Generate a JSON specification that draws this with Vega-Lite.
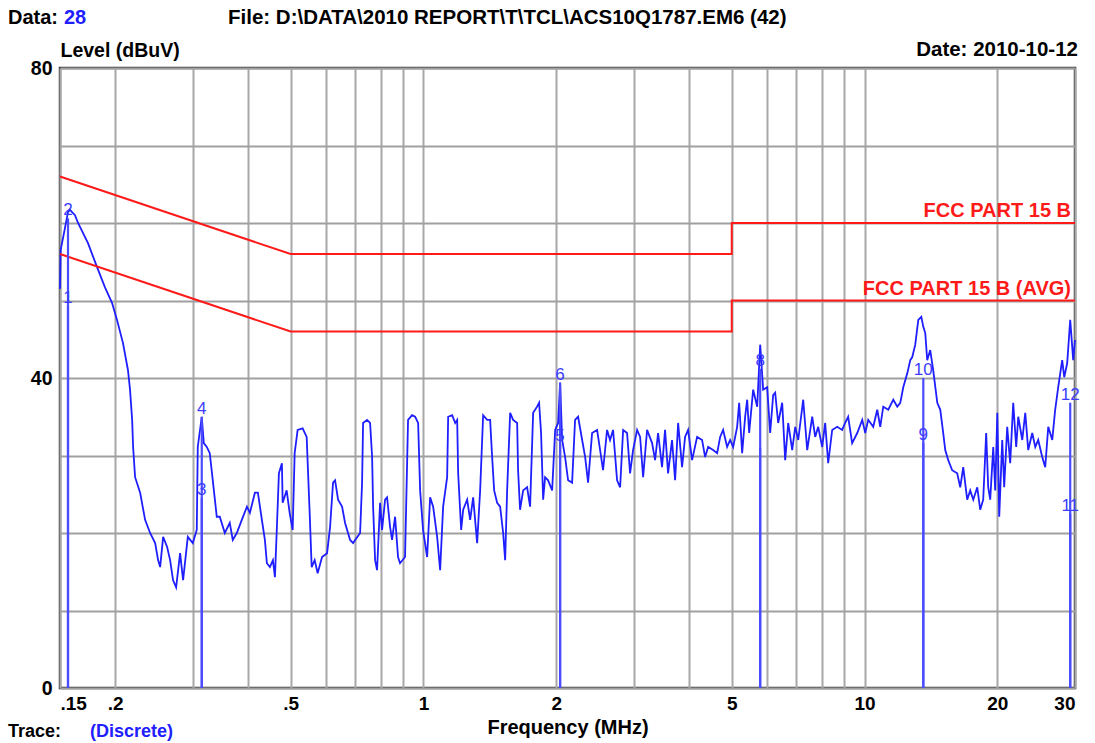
{
  "$schema": "https://vega.github.io/schema/vega-lite/v6.json",
  "width": 1015,
  "height": 620,
  "autosize": {"type": "none"},
  "padding": {"left": 60, "top": 68, "right": 20, "bottom": 55},
  "background": "white",
  "config": {
    "font": "Liberation Sans",
    "view": {"stroke": "#3a3a3a", "strokeWidth": 2.5}
  },
  "resolve": {"axis": {"x": "independent", "y": "independent"}},
  "datasets": {
    "trace": [
      {"f":0.1500,"v":51.5},{"f":0.1505,"v":56.5},{"f":0.1540,"v":59.4},{"f":0.1564,"v":61.4},{"f":0.1580,"v":61.7},{"f":0.1622,"v":61.0},{"f":0.1648,"v":60.0},{"f":0.1736,"v":57.4},{"f":0.1820,"v":54.3},{"f":0.1897,"v":51.7},{"f":0.1968,"v":49.7},{"f":0.2020,"v":47.5},{"f":0.2084,"v":44.5},{"f":0.2139,"v":41.0},{"f":0.2162,"v":38.5},{"f":0.2186,"v":34.6},{"f":0.2197,"v":31.1},{"f":0.2220,"v":27.2},{"f":0.2279,"v":25.2},{"f":0.2339,"v":21.7},{"f":0.2401,"v":20.0},{"f":0.2465,"v":18.7},{"f":0.2503,"v":16.5},{"f":0.2530,"v":15.6},{"f":0.2570,"v":19.5},{"f":0.2624,"v":18.2},{"f":0.2665,"v":16.5},{"f":0.2707,"v":13.9},{"f":0.2750,"v":13.0},{"f":0.2808,"v":17.4},{"f":0.2852,"v":13.9},{"f":0.2923,"v":19.5},{"f":0.3000,"v":18.7},{"f":0.3063,"v":20.4},{"f":0.3079,"v":31.1},{"f":0.3144,"v":35.0},{"f":0.3177,"v":31.6},{"f":0.3227,"v":31.1},{"f":0.3278,"v":30.3},{"f":0.3330,"v":26.8},{"f":0.3400,"v":22.1},{"f":0.3454,"v":22.1},{"f":0.3546,"v":20.0},{"f":0.3639,"v":21.3},{"f":0.3696,"v":19.1},{"f":0.3775,"v":20.0},{"f":0.3875,"v":21.7},{"f":0.3980,"v":23.4},{"f":0.4042,"v":22.6},{"f":0.4149,"v":25.2},{"f":0.4214,"v":25.2},{"f":0.4303,"v":21.7},{"f":0.4371,"v":19.1},{"f":0.4417,"v":16.1},{"f":0.4487,"v":15.6},{"f":0.4558,"v":16.5},{"f":0.4606,"v":14.3},{"f":0.4654,"v":20.8},{"f":0.4703,"v":27.7},{"f":0.4777,"v":29.0},{"f":0.4796,"v":23.9},{"f":0.4897,"v":25.5},{"f":0.4974,"v":22.6},{"f":0.5053,"v":20.4},{"f":0.5106,"v":30.3},{"f":0.5186,"v":33.3},{"f":0.5323,"v":33.5},{"f":0.5436,"v":32.4},{"f":0.5522,"v":22.6},{"f":0.5580,"v":15.6},{"f":0.5668,"v":16.5},{"f":0.5757,"v":14.8},{"f":0.5891,"v":16.9},{"f":0.6047,"v":17.4},{"f":0.6143,"v":20.8},{"f":0.6239,"v":26.5},{"f":0.6305,"v":26.8},{"f":0.6405,"v":24.3},{"f":0.6540,"v":23.4},{"f":0.6643,"v":21.3},{"f":0.6820,"v":19.1},{"f":0.6927,"v":18.7},{"f":0.7185,"v":20.0},{"f":0.7260,"v":26.5},{"f":0.7298,"v":34.2},{"f":0.7452,"v":34.6},{"f":0.7570,"v":34.2},{"f":0.7650,"v":29.8},{"f":0.7690,"v":23.4},{"f":0.7770,"v":16.5},{"f":0.7850,"v":15.2},{"f":0.7975,"v":23.9},{"f":0.8058,"v":20.4},{"f":0.8186,"v":24.3},{"f":0.8272,"v":24.6},{"f":0.8402,"v":20.8},{"f":0.8490,"v":19.1},{"f":0.8625,"v":22.1},{"f":0.8759,"v":16.9},{"f":0.8850,"v":16.1},{"f":0.9085,"v":16.9},{"f":0.9229,"v":34.6},{"f":0.9423,"v":35.2},{"f":0.9576,"v":35.0},{"f":0.9727,"v":34.2},{"f":0.9829,"v":25.5},{"f":0.9980,"v":20.4},{"f":1.0195,"v":16.9},{"f":1.0356,"v":24.6},{"f":1.0520,"v":23.4},{"f":1.0742,"v":19.5},{"f":1.0911,"v":15.2},{"f":1.1083,"v":23.4},{"f":1.1318,"v":27.2},{"f":1.1378,"v":35.0},{"f":1.1619,"v":35.2},{"f":1.1802,"v":34.2},{"f":1.1926,"v":34.6},{"f":1.1988,"v":27.7},{"f":1.2177,"v":20.4},{"f":1.2305,"v":23.0},{"f":1.2564,"v":24.3},{"f":1.2763,"v":21.7},{"f":1.2963,"v":24.6},{"f":1.3236,"v":18.7},{"f":1.3445,"v":25.5},{"f":1.3657,"v":35.2},{"f":1.3946,"v":34.6},{"f":1.4166,"v":34.6},{"f":1.4314,"v":29.8},{"f":1.4465,"v":25.5},{"f":1.4692,"v":23.9},{"f":1.4924,"v":23.4},{"f":1.5160,"v":20.0},{"f":1.5319,"v":16.5},{"f":1.5480,"v":25.5},{"f":1.5725,"v":35.5},{"f":1.5970,"v":34.6},{"f":1.6310,"v":34.2},{"f":1.6390,"v":28.1},{"f":1.6560,"v":23.0},{"f":1.6830,"v":25.5},{"f":1.7180,"v":25.9},{"f":1.7450,"v":23.4},{"f":1.7730,"v":35.5},{"f":1.8100,"v":36.3},{"f":1.8290,"v":36.8},{"f":1.8480,"v":32.9},{"f":1.8680,"v":24.3},{"f":1.8870,"v":27.2},{"f":1.9170,"v":26.8},{"f":1.9580,"v":25.5},{"f":1.9890,"v":33.3},{"f":2.0200,"v":34.2},{"f":2.0410,"v":39.4},{"f":2.0630,"v":32.0},{"f":2.0950,"v":29.8},{"f":2.1280,"v":26.8},{"f":2.1730,"v":26.5},{"f":2.2070,"v":34.6},{"f":2.2420,"v":35.0},{"f":2.2900,"v":32.0},{"f":2.3260,"v":29.8},{"f":2.3620,"v":26.5},{"f":2.4120,"v":32.9},{"f":2.4760,"v":33.3},{"f":2.5150,"v":30.7},{"f":2.5540,"v":28.1},{"f":2.6080,"v":33.3},{"f":2.6490,"v":32.0},{"f":2.6910,"v":33.3},{"f":2.7480,"v":26.8},{"f":2.7920,"v":25.9},{"f":2.8360,"v":33.3},{"f":2.8950,"v":32.9},{"f":2.9410,"v":27.7},{"f":2.9870,"v":30.7},{"f":3.0510,"v":33.3},{"f":3.0990,"v":32.4},{"f":3.1480,"v":27.2},{"f":3.2140,"v":33.3},{"f":3.2990,"v":31.6},{"f":3.3510,"v":29.4},{"f":3.4040,"v":32.9},{"f":3.4750,"v":28.5},{"f":3.5300,"v":33.3},{"f":3.5860,"v":27.7},{"f":3.6610,"v":32.0},{"f":3.7200,"v":26.8},{"f":3.7790,"v":34.2},{"f":3.8580,"v":28.5},{"f":3.9190,"v":32.4},{"f":3.9810,"v":33.3},{"f":4.0650,"v":29.4},{"f":4.1730,"v":32.4},{"f":4.2830,"v":32.0},{"f":4.3510,"v":29.8},{"f":4.4200,"v":31.1},{"f":4.5370,"v":30.7},{"f":4.6330,"v":30.3},{"f":4.7060,"v":32.4},{"f":4.7800,"v":33.3},{"f":4.8810,"v":31.1},{"f":4.9580,"v":32.0},{"f":5.0370,"v":31.1},{"f":5.1430,"v":33.7},{"f":5.1970,"v":36.8},{"f":5.2790,"v":30.3},{"f":5.3620,"v":35.0},{"f":5.4190,"v":37.2},{"f":5.4750,"v":32.9},{"f":5.5910,"v":38.5},{"f":5.7100,"v":36.3},{"f":5.8000,"v":44.3},{"f":5.8910,"v":38.5},{"f":6.0160,"v":38.8},{"f":6.1100,"v":32.9},{"f":6.2070,"v":37.8},{"f":6.2720,"v":38.1},{"f":6.3710,"v":34.2},{"f":6.5060,"v":36.8},{"f":6.6090,"v":29.4},{"f":6.7140,"v":34.2},{"f":6.8550,"v":30.7},{"f":6.9640,"v":33.7},{"f":7.0740,"v":32.0},{"f":7.2600,"v":37.2},{"f":7.4140,"v":30.7},{"f":7.6100,"v":35.0},{"f":7.7300,"v":32.4},{"f":7.8510,"v":33.7},{"f":8.0170,"v":31.1},{"f":8.1430,"v":34.2},{"f":8.2720,"v":29.0},{"f":8.4460,"v":33.3},{"f":8.6700,"v":33.7},{"f":8.8970,"v":33.3},{"f":9.0380,"v":34.2},{"f":9.1800,"v":35.0},{"f":9.3740,"v":31.6},{"f":9.6260,"v":32.9},{"f":9.8810,"v":34.6},{"f":10.037,"v":32.9},{"f":10.195,"v":34.6},{"f":10.465,"v":33.7},{"f":10.686,"v":35.9},{"f":10.854,"v":33.7},{"f":11.026,"v":36.3},{"f":11.318,"v":35.9},{"f":11.619,"v":37.2},{"f":11.864,"v":36.3},{"f":12.051,"v":36.8},{"f":12.241,"v":38.8},{"f":12.500,"v":40.6},{"f":12.697,"v":42.3},{"f":12.830,"v":42.7},{"f":13.030,"v":44.3},{"f":13.240,"v":47.5},{"f":13.450,"v":47.9},{"f":13.590,"v":46.6},{"f":13.730,"v":45.8},{"f":13.870,"v":42.3},{"f":14.090,"v":43.6},{"f":14.310,"v":41.0},{"f":14.620,"v":36.8},{"f":14.850,"v":35.9},{"f":15.080,"v":32.9},{"f":15.240,"v":30.7},{"f":15.480,"v":29.4},{"f":15.800,"v":28.1},{"f":16.220,"v":27.7},{"f":16.480,"v":25.9},{"f":16.740,"v":28.5},{"f":17.090,"v":24.3},{"f":17.360,"v":25.5},{"f":17.640,"v":24.3},{"f":18.010,"v":25.9},{"f":18.290,"v":23.0},{"f":18.580,"v":24.3},{"f":18.870,"v":32.9},{"f":19.070,"v":25.9},{"f":19.270,"v":24.3},{"f":19.580,"v":31.1},{"f":19.780,"v":25.5},{"f":20.000,"v":35.5},{"f":20.200,"v":22.1},{"f":20.520,"v":32.0},{"f":20.730,"v":25.9},{"f":21.060,"v":33.7},{"f":21.390,"v":29.0},{"f":21.730,"v":36.8},{"f":22.070,"v":31.1},{"f":22.310,"v":35.0},{"f":22.780,"v":32.0},{"f":23.140,"v":35.5},{"f":23.500,"v":30.7},{"f":24.000,"v":32.9},{"f":24.380,"v":31.1},{"f":24.760,"v":32.0},{"f":25.280,"v":29.8},{"f":25.680,"v":28.5},{"f":26.090,"v":33.7},{"f":26.640,"v":32.0},{"f":27.050,"v":35.9},{"f":27.480,"v":38.8},{"f":28.060,"v":42.3},{"f":28.360,"v":40.1},{"f":28.800,"v":41.9},{"f":29.260,"v":47.5},{"f":29.720,"v":42.3},{"f":30.000,"v":44.9}
    ],
    "limits": [
      {"lim":"QP","i":1,"f":0.15,"v":66},{"lim":"QP","i":2,"f":0.5,"v":56},{"lim":"QP","i":3,"f":5,"v":56},{"lim":"QP","i":4,"f":5,"v":60},{"lim":"QP","i":5,"f":30,"v":60},
      {"lim":"AVG","i":1,"f":0.15,"v":56},{"lim":"AVG","i":2,"f":0.5,"v":46},{"lim":"AVG","i":3,"f":5,"v":46},{"lim":"AVG","i":4,"f":5,"v":50},{"lim":"AVG","i":5,"f":30,"v":50}
    ],
    "markers": [
      {"m":1,"f":0.1564,"v":49.3},{"m":2,"f":0.1564,"v":60.6},
      {"m":3,"f":0.3144,"v":24.5},{"m":4,"f":0.3144,"v":35.0},
      {"m":5,"f":2.041,"v":31.5},{"m":6,"f":2.041,"v":39.4},
      {"m":7,"f":5.80,"v":31.0},{"m":8,"f":5.80,"v":41.2},
      {"m":9,"f":13.59,"v":31.6},{"m":10,"f":13.59,"v":40.0},
      {"m":11,"f":29.26,"v":22.5},{"m":12,"f":29.26,"v":36.8}
    ]
  },
  "layer": [
    {
      "data": {"name": "trace"},
      "mark": {"type": "line", "color": "#1e1eff", "strokeWidth": 1.8, "interpolate": "linear"},
      "encoding": {
        "x": {"field": "f", "type": "quantitative", "scale": {"type": "log", "domain": [0.15, 30], "nice": false},
          "axis": {"orient": "bottom", "values": [0.15,0.2,0.3,0.4,0.5,0.6,0.7,0.8,0.9,1,2,3,4,5,6,7,8,9,10,20,30],
            "labelExpr": "datum.value == 0.15 ? '.15' : datum.value == 0.2 ? '.2' : datum.value == 0.5 ? '.5' : (datum.value == 1 || datum.value == 2 || datum.value == 5 || datum.value == 10 || datum.value == 20 || datum.value == 30) ? format(datum.value, 'd') : ''",
            "title": "Frequency (MHz)", "ticks": false, "domain": false, "grid": true, "gridColor": "#a8a8a8", "gridWidth": 2, "gridOpacity": 1,
            "labelFontSize": 19, "labelFontWeight": "bold", "labelColor": "#000000", "labelPadding": 6, "labelFlush": true, "labelOverlap": false,
            "titleFontSize": 20, "titleFontWeight": "bold", "titleColor": "#000000", "titlePadding": 4}},
        "y": {"field": "v", "type": "quantitative", "scale": {"domain": [0, 80], "nice": false},
          "axis": {"orient": "left", "values": [0,10,20,30,40,50,60,70,80],
            "labelExpr": "datum.value % 40 == 0 ? datum.label : ''",
            "title": "Level (dBuV)", "titleAngle": 0, "titleX": 0, "titleY": -18, "titleAlign": "left", "titleBaseline": "middle",
            "titleFontSize": 19.5, "titleFontWeight": "bold", "titleColor": "#000000",
            "ticks": false, "domain": false, "grid": true, "gridColor": "#a0a0a0", "gridWidth": 2, "gridOpacity": 1,
            "labelFontSize": 19.5, "labelFontWeight": "bold", "labelColor": "#000000", "labelPadding": 8}}
      }
    },
    {
      "data": {"name": "limits"},
      "mark": {"type": "line", "color": "#ff1a1a", "strokeWidth": 2},
      "encoding": {
        "x": {"field": "f", "type": "quantitative", "scale": {"type": "log", "domain": [0.15, 30], "nice": false}, "axis": null},
        "y": {"field": "v", "type": "quantitative", "scale": {"domain": [0, 80], "nice": false}, "axis": null},
        "detail": {"field": "lim"},
        "order": {"field": "i", "type": "quantitative"}
      }
    },
    {
      "data": {"name": "markers"},
      "mark": {"type": "rule", "color": "#4a4aff", "strokeWidth": 2.2},
      "encoding": {
        "x": {"field": "f", "type": "quantitative", "scale": {"type": "log", "domain": [0.15, 30], "nice": false}, "axis": null},
        "y": {"field": "v", "type": "quantitative", "scale": {"domain": [0, 80], "nice": false}, "axis": null},
        "y2": {"datum": 0}
      }
    },
    {
      "data": {"name": "markers"},
      "transform": [{"filter": "datum.m != 7"}],
      "mark": {"type": "text", "color": "#3c3cff", "fontSize": 17, "baseline": "alphabetic", "align": "center", "dy": -3},
      "encoding": {
        "x": {"field": "f", "type": "quantitative", "scale": {"type": "log", "domain": [0.15, 30], "nice": false}, "axis": null},
        "y": {"field": "v", "type": "quantitative", "scale": {"domain": [0, 80], "nice": false}, "axis": null},
        "text": {"field": "m", "type": "nominal"}
      }
    },
    {
      "data": {"values": [{}]},
      "mark": {"type": "text", "color": "#ff1a1a", "fontSize": 20, "fontWeight": "bold", "align": "right", "baseline": "alphabetic", "dx": -4, "dy": -6},
      "encoding": {
        "x": {"datum": 30, "type": "quantitative", "scale": {"type": "log", "domain": [0.15, 30], "nice": false}, "axis": null},
        "y": {"datum": 60, "type": "quantitative", "scale": {"domain": [0, 80], "nice": false}, "axis": null},
        "text": {"value": "FCC PART 15 B"}
      }
    },
    {
      "data": {"values": [{}]},
      "mark": {"type": "text", "color": "#ff1a1a", "fontSize": 20, "fontWeight": "bold", "align": "right", "baseline": "alphabetic", "dx": -4, "dy": -6},
      "encoding": {
        "x": {"datum": 30, "type": "quantitative", "scale": {"type": "log", "domain": [0.15, 30], "nice": false}, "axis": null},
        "y": {"datum": 50, "type": "quantitative", "scale": {"domain": [0, 80], "nice": false}, "axis": null},
        "text": {"value": "FCC PART 15 B (AVG)"}
      }
    },
    {
      "data": {"values": [{}]},
      "mark": {"type": "text", "color": "#000000", "fontSize": 20, "fontWeight": "bold", "align": "left", "baseline": "middle", "dx": -52, "dy": -50},
      "encoding": {
        "x": {"datum": 0.15, "type": "quantitative", "scale": {"type": "log", "domain": [0.15, 30], "nice": false}, "axis": null},
        "y": {"datum": 80, "type": "quantitative", "scale": {"domain": [0, 80], "nice": false}, "axis": null},
        "text": {"value": "Data:"}
      }
    },
    {
      "data": {"values": [{}]},
      "mark": {"type": "text", "color": "#2020ff", "fontSize": 20, "fontWeight": "bold", "align": "left", "baseline": "middle", "dx": 4, "dy": -50},
      "encoding": {
        "x": {"datum": 0.15, "type": "quantitative", "scale": {"type": "log", "domain": [0.15, 30], "nice": false}, "axis": null},
        "y": {"datum": 80, "type": "quantitative", "scale": {"domain": [0, 80], "nice": false}, "axis": null},
        "text": {"value": "28"}
      }
    },
    {
      "data": {"values": [{}]},
      "mark": {"type": "text", "color": "#000000", "fontSize": 20.5, "fontWeight": "bold", "align": "left", "baseline": "middle", "dx": 168, "dy": -50},
      "encoding": {
        "x": {"datum": 0.15, "type": "quantitative", "scale": {"type": "log", "domain": [0.15, 30], "nice": false}, "axis": null},
        "y": {"datum": 80, "type": "quantitative", "scale": {"domain": [0, 80], "nice": false}, "axis": null},
        "text": {"value": "File: D:\\DATA\\2010 REPORT\\T\\TCL\\ACS10Q1787.EM6  (42)"}
      }
    },
    {
      "data": {"values": [{}]},
      "mark": {"type": "text", "color": "#000000", "fontSize": 20.5, "fontWeight": "bold", "align": "right", "baseline": "middle", "dx": 3, "dy": -18},
      "encoding": {
        "x": {"datum": 30, "type": "quantitative", "scale": {"type": "log", "domain": [0.15, 30], "nice": false}, "axis": null},
        "y": {"datum": 80, "type": "quantitative", "scale": {"domain": [0, 80], "nice": false}, "axis": null},
        "text": {"value": "Date: 2010-10-12"}
      }
    },
    {
      "data": {"values": [{}]},
      "mark": {"type": "text", "color": "#000000", "fontSize": 18, "fontWeight": "bold", "align": "left", "baseline": "middle", "dx": -52, "dy": 44},
      "encoding": {
        "x": {"datum": 0.15, "type": "quantitative", "scale": {"type": "log", "domain": [0.15, 30], "nice": false}, "axis": null},
        "y": {"datum": 0, "type": "quantitative", "scale": {"domain": [0, 80], "nice": false}, "axis": null},
        "text": {"value": "Trace:"}
      }
    },
    {
      "data": {"values": [{}]},
      "mark": {"type": "text", "color": "#2020ff", "fontSize": 18, "fontWeight": "bold", "align": "left", "baseline": "middle", "dx": 30, "dy": 44},
      "encoding": {
        "x": {"datum": 0.15, "type": "quantitative", "scale": {"type": "log", "domain": [0.15, 30], "nice": false}, "axis": null},
        "y": {"datum": 0, "type": "quantitative", "scale": {"domain": [0, 80], "nice": false}, "axis": null},
        "text": {"value": "(Discrete)"}
      }
    }
  ]
}
